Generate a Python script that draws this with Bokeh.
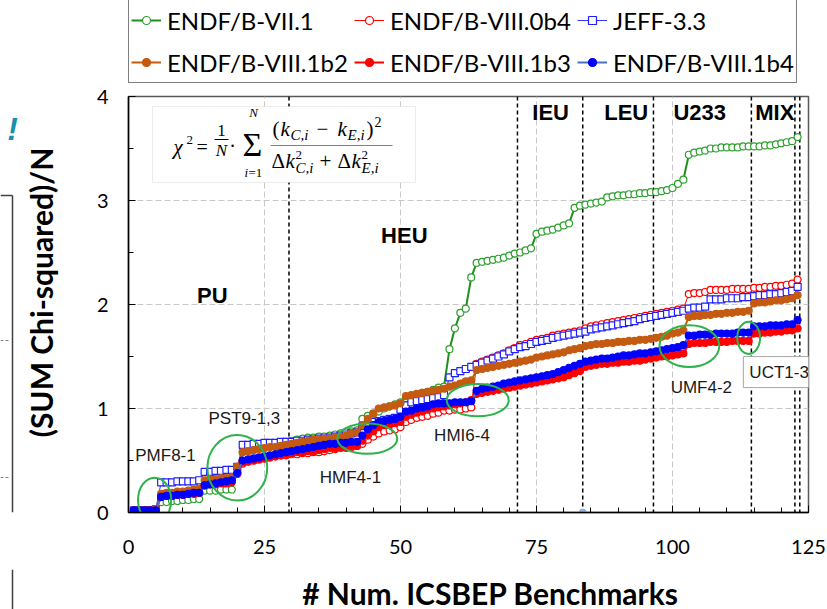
import math
from bokeh.plotting import figure
from bokeh.layouts import column, row
from bokeh.models import (Legend, LegendItem, Span, Label, BoxAnnotation, FixedTicker)
from bokeh.embed import file_html
from bokeh.resources import INLINE

# ---------------- data ----------------
bench = list(range(1, 124))

endf_b_vii1 = [
    0.02, 0.02, 0.02, 0.02, 0.02,
    0.10, 0.10, 0.11, 0.11, 0.12, 0.12, 0.13, 0.13,
    0.21, 0.21, 0.21, 0.22, 0.22, 0.22,
    0.40,
    0.58, 0.60, 0.62, 0.63, 0.64, 0.65, 0.66, 0.67, 0.68, 0.69, 0.70, 0.71, 0.72, 0.72, 0.73, 0.73, 0.74,
    0.75, 0.76, 0.77, 0.78, 0.79,
    0.90, 0.93, 0.95, 0.97, 1.00, 1.02, 1.04, 1.06,
    1.10, 1.12, 1.13, 1.15, 1.16, 1.18, 1.20, 1.21,
    1.57, 1.77, 1.92, 1.96, 2.26, 2.40,
    2.41, 2.42, 2.43, 2.44, 2.45, 2.47, 2.49,
    2.50, 2.52, 2.54,
    2.68, 2.70, 2.71, 2.72, 2.74, 2.76, 2.78,
    2.93, 2.95,
    2.96, 2.97, 2.98, 2.99, 3.03,
    3.04, 3.05, 3.05, 3.06, 3.06, 3.07, 3.07, 3.08,
    3.08, 3.09, 3.10, 3.12, 3.16, 3.20,
    3.44, 3.46, 3.47, 3.48,
    3.50, 3.50, 3.51, 3.51, 3.51, 3.51, 3.52, 3.52,
    3.52, 3.52, 3.53, 3.53, 3.54, 3.55, 3.56, 3.57,
    3.61]

endf_b_viii0b4 = [
    0.02, 0.02, 0.02, 0.02, 0.03,
    0.15, 0.16, 0.16, 0.17, 0.17, 0.18, 0.18, 0.19,
    0.27, 0.28, 0.28, 0.29, 0.29, 0.30,
    0.38,
    0.47, 0.49, 0.50, 0.51, 0.52, 0.53, 0.54, 0.55, 0.55, 0.56, 0.56, 0.57, 0.57, 0.58, 0.58, 0.59, 0.60,
    0.61, 0.62, 0.62, 0.63, 0.64,
    0.66, 0.70, 0.73, 0.76, 0.78, 0.79, 0.80, 0.82,
    0.87, 0.89, 0.91, 0.92, 0.93, 0.95, 0.96, 0.98,
    0.98, 0.99, 0.99, 1.00, 1.01,
    1.43, 1.45, 1.47, 1.49, 1.51, 1.53, 1.56, 1.58,
    1.61, 1.62, 1.64, 1.66, 1.67, 1.68, 1.70, 1.71, 1.72, 1.73, 1.74, 1.75,
    1.77, 1.79, 1.80, 1.81, 1.82, 1.83, 1.84, 1.85, 1.86, 1.87, 1.88, 1.89, 1.90,
    1.91, 1.92, 1.93, 1.94, 1.95, 1.96,
    2.10, 2.11, 2.11, 2.12,
    2.14, 2.14, 2.14, 2.14, 2.15, 2.15, 2.15, 2.15,
    2.16, 2.16, 2.17, 2.17, 2.18, 2.18, 2.19, 2.20,
    2.24]

jeff33 = [
    0.02, 0.02, 0.02, 0.02, 0.03,
    0.29, 0.29, 0.29, 0.30, 0.30, 0.30, 0.30, 0.31,
    0.39, 0.39, 0.40, 0.40, 0.41, 0.41,
    0.44,
    0.65, 0.65, 0.66, 0.66, 0.67, 0.67, 0.67, 0.68, 0.68,
    0.68, 0.69, 0.69, 0.70, 0.70, 0.71, 0.71, 0.72, 0.73,
    0.74, 0.75, 0.76, 0.77,
    0.83, 0.85, 0.87, 0.88, 0.89, 0.90, 0.91,
    0.99, 1.03,
    1.06, 1.07, 1.08, 1.09, 1.10, 1.11, 1.13,
    1.30,
    1.34, 1.36, 1.38, 1.40, 1.42,
    1.44, 1.46, 1.48, 1.50, 1.52, 1.55, 1.57,
    1.59, 1.60, 1.62, 1.64, 1.65, 1.66, 1.68, 1.69, 1.70, 1.71, 1.72, 1.73,
    1.74, 1.76, 1.77, 1.78, 1.79, 1.80, 1.81, 1.82, 1.83, 1.84, 1.86, 1.87, 1.88,
    1.89, 1.90, 1.91, 1.92, 1.93, 1.94,
    1.96, 1.97, 1.97, 1.98,
    2.05, 2.05, 2.05, 2.06, 2.06, 2.06, 2.07, 2.07,
    2.08, 2.09, 2.09, 2.10, 2.10, 2.11, 2.12, 2.13,
    2.17]

endf_b_viii1b2 = [
    0.02, 0.02, 0.02, 0.02, 0.03,
    0.18, 0.19, 0.19, 0.20, 0.20, 0.21, 0.22, 0.23,
    0.31, 0.32, 0.32, 0.33, 0.33, 0.34,
    0.44,
    0.58, 0.59, 0.60, 0.61, 0.62, 0.63, 0.63, 0.64, 0.65, 0.66, 0.67, 0.68, 0.69, 0.70, 0.70, 0.71, 0.71,
    0.72, 0.73, 0.74, 0.76, 0.77,
    0.84, 0.90, 0.95, 1.00, 1.01, 1.02, 1.03, 1.05,
    1.12, 1.13, 1.14, 1.15, 1.16, 1.17, 1.18, 1.19,
    1.21, 1.22, 1.24, 1.26, 1.27,
    1.37, 1.38, 1.39, 1.40, 1.41, 1.42, 1.43, 1.44,
    1.45, 1.46, 1.47, 1.49, 1.50, 1.51, 1.52, 1.53, 1.54, 1.56, 1.57, 1.58,
    1.60, 1.61, 1.62, 1.62, 1.63, 1.63, 1.64, 1.64, 1.65, 1.65, 1.66, 1.66, 1.67,
    1.68, 1.69, 1.70, 1.72, 1.73, 1.75,
    1.88, 1.89, 1.89, 1.90, 1.90, 1.91, 1.91, 1.92, 1.92, 1.93, 1.93, 1.94,
    2.01, 2.02, 2.02, 2.03, 2.04, 2.04, 2.05, 2.06,
    2.09]

endf_b_viii1b3 = [
    0.02, 0.02, 0.02, 0.02, 0.02,
    0.15, 0.16, 0.16, 0.17, 0.17, 0.18, 0.18, 0.19,
    0.26, 0.27, 0.27, 0.28, 0.28, 0.29,
    0.37,
    0.48, 0.49, 0.50, 0.51, 0.52, 0.53, 0.54, 0.55, 0.56, 0.57, 0.58, 0.58, 0.59, 0.59, 0.60, 0.61, 0.62,
    0.62, 0.63, 0.63, 0.64, 0.64,
    0.69, 0.74, 0.78, 0.82, 0.84, 0.85, 0.86, 0.87,
    0.92, 0.94, 0.96, 0.97, 0.99, 1.00, 1.01, 1.02,
    1.03, 1.04, 1.05, 1.06, 1.08,
    1.14, 1.15, 1.16, 1.17, 1.18, 1.19, 1.20, 1.21,
    1.22, 1.23, 1.24, 1.25, 1.26, 1.27, 1.28, 1.29, 1.30, 1.32, 1.34, 1.36,
    1.40, 1.41, 1.42, 1.43, 1.43, 1.44, 1.44, 1.45, 1.45, 1.46, 1.46, 1.47, 1.48,
    1.49, 1.50, 1.50, 1.51, 1.52, 1.53,
    1.62, 1.63, 1.63, 1.63, 1.64, 1.64, 1.64, 1.64, 1.65, 1.65, 1.65, 1.65,
    1.72, 1.72, 1.73, 1.73, 1.74, 1.74, 1.75, 1.75,
    1.77]

endf_b_viii1b4 = [
    0.02, 0.02, 0.02, 0.02, 0.02,
    0.15, 0.16, 0.16, 0.17, 0.17, 0.18, 0.19, 0.19,
    0.26, 0.27, 0.28, 0.29, 0.30, 0.31,
    0.38,
    0.50, 0.51, 0.52, 0.53, 0.54, 0.55, 0.56, 0.57, 0.58, 0.59, 0.60, 0.61, 0.62, 0.63, 0.64, 0.65, 0.66,
    0.66, 0.67, 0.67, 0.68, 0.68,
    0.74, 0.80, 0.84, 0.87, 0.88, 0.89, 0.90, 0.92,
    0.97, 0.98, 1.00, 1.01, 1.02, 1.04, 1.05, 1.05,
    1.05, 1.06, 1.06, 1.06, 1.07,
    1.17, 1.19, 1.20, 1.21, 1.22, 1.24, 1.25, 1.26,
    1.27, 1.28, 1.29, 1.30, 1.31, 1.32, 1.33, 1.35, 1.37, 1.39, 1.41, 1.43,
    1.45, 1.46, 1.47, 1.48, 1.48, 1.49, 1.50, 1.51, 1.51, 1.52, 1.53, 1.53, 1.54,
    1.55, 1.56, 1.57, 1.58, 1.59, 1.61,
    1.70, 1.70, 1.71, 1.71, 1.71, 1.72, 1.72, 1.72, 1.72, 1.73, 1.73, 1.73,
    1.79, 1.79, 1.79, 1.80, 1.80, 1.80, 1.81, 1.81,
    1.85]

series_names = ["ENDF/B-VII.1", "ENDF/B-VIII.0b4", "JEFF-3.3",
                "ENDF/B-VIII.1b2", "ENDF/B-VIII.1b3", "ENDF/B-VIII.1b4"]
series_values = [endf_b_vii1, endf_b_viii0b4, jeff33,
                 endf_b_viii1b2, endf_b_viii1b3, endf_b_viii1b4]

section_names = ["PU", "HEU", "IEU", "LEU", "U233", "MIX"]
section_bounds = [29.5, 71.5, 83.5, 96.5, 114.5, 122.5, 123.4]
highlight_names = ["PMF8-1", "PST9-1,3", "HMF4-1", "HMI6-4", "UMF4-2", "UCT1-3"]
x_ticks = [0, 25, 50, 75, 100, 125]
y_ticks = [0, 1, 2, 3, 4]
artifact_x = [83.5]
artifact_y = [0.0]
y_title = "(SUM Chi-squared)/N"
x_title = "# Num. ICSBEP Benchmarks"

for v in series_values:
    assert len(v) == len(bench), len(v)

# ---------------- geometry ----------------
W, H = 827, 609
LEG_H = 84          # legend strip (top)
BOT_H = 40          # x-title strip (bottom)
LEFT_W = 88         # y-title strip (left)
FL, FT, FW, FH = 128, 96, 680, 416   # frame position in the full picture
XMAX, YMAX = 125, 4
MID_H = H - LEG_H - BOT_H
MB_TOP = FT - LEG_H
MB_BOT = MID_H - MB_TOP - FH


def X(px):
    return (px - FL) * XMAX / FW


def Y(py):
    return (FT + FH - py) * YMAX / FH


styles = [
    dict(line="#1f8f1f", lw=2, marker="circle", mline="#2ca02c", fill="white", size=7),
    dict(line="#ff0000", lw=1, marker="circle", mline="#ff0000", fill="white", size=7),
    dict(line="#3333ff", lw=1, marker="square", mline="#1f1fff", fill="white", size=7),
    dict(line="#c55a11", lw=2, marker="circle", mline="#c55a11", fill="#c55a11", size=7),
    dict(line="#ff0000", lw=2, marker="circle", mline="#ff0000", fill="#ff0000", size=7),
    dict(line="#4472c4", lw=2, marker="circle", mline="#0000ff", fill="#0000ff", size=7),
]

# ---------------- main plot ----------------
p = figure(frame_width=FW, frame_height=FH, x_range=(0, XMAX), y_range=(0, YMAX),
           min_border_left=FL - LEFT_W, min_border_right=W - FL - FW,
           min_border_top=MB_TOP, min_border_bottom=MB_BOT,
           output_backend="svg", toolbar_location=None,
           background_fill_color="white", border_fill_color="white")

p.outline_line_color = "#595959"
p.outline_line_width = 1.5

p.xaxis.ticker = FixedTicker(ticks=x_ticks, minor_ticks=list(range(0, 126, 5)))
p.yaxis.ticker = FixedTicker(ticks=y_ticks, minor_ticks=[0.5, 1.5, 2.5, 3.5])
for ax in (p.xaxis[0], p.yaxis[0]):
    ax.axis_line_color = "black"
    ax.axis_line_width = 1.5
    ax.major_tick_in = 7
    ax.major_tick_out = 0
    ax.minor_tick_in = 5
    ax.minor_tick_out = 0
    ax.major_tick_line_color = "black"
    ax.minor_tick_line_color = "black"
    ax.major_label_text_font = "Lato"
    ax.major_label_text_font_size = "20px"
    ax.major_label_text_color = "black"
p.xaxis.major_label_standoff = 27
p.yaxis.major_label_standoff = 20

p.xgrid.ticker = FixedTicker(ticks=[25, 50, 75, 100])
p.ygrid.ticker = FixedTicker(ticks=[1, 2, 3])
p.grid.grid_line_color = "#c8c8c8"
p.grid.grid_line_dash = "6 3"
p.grid.grid_line_width = 1

for b in section_bounds:
    p.add_layout(Span(location=b, dimension="height", line_color="black",
                      line_dash="4 3", line_width=1.5, level="underlay"))

for name, vals, st in zip(series_names, series_values, styles):
    p.line(bench, vals, line_color=st["line"], line_width=st["lw"])
    p.scatter(bench, vals, marker=st["marker"], size=st["size"],
              line_color=st["mline"], fill_color=st["fill"], line_width=1.2)

p.scatter(artifact_x, artifact_y, size=7, fill_color="#8db4e2", line_color="#8db4e2")

# highlight ellipses
ell_x = [4.8, 20.0, 43.9, 64.2, 103.1, 114.0]
ell_y = [0.12, 0.43, 0.71, 1.08, 1.60, 1.68]
ell_w = [6.1, 11.0, 11.0, 11.4, 11.0, 4.2]
ell_h = [0.43, 0.63, 0.29, 0.31, 0.40, 0.31]
p.ellipse(x=ell_x, y=ell_y, width=ell_w, height=ell_h, fill_alpha=0,
          line_color="#2db34a", line_width=2)

sec_x = [15.4, 50.7, 77.6, 91.5, 105.0, 118.8]
sec_y = [2.09, 2.66, 3.85, 3.85, 3.85, 3.85]
for s, sx, sy in zip(section_names, sec_x, sec_y):
    p.add_layout(Label(x=sx, y=sy, text=s, text_font="Liberation Sans", text_font_style="bold",
                       text_font_size="22px", text_align="center", text_baseline="middle",
                       text_color="black"))

hl_x = [6.8, 21.3, 40.8, 61.3, 105.3, 119.6]
hl_y = [0.55, 0.90, 0.34, 0.74, 1.20, 1.35]
for s, hx, hy in zip(highlight_names, hl_x, hl_y):
    kw = {}
    if s == "UCT1-3":
        kw = dict(background_fill_color="white", background_fill_alpha=1,
                  border_line_color="#a6a6a6", border_line_width=1, padding=6)
    p.add_layout(Label(x=hx, y=hy, text=s, text_font="Liberation Sans",
                       text_font_size="17px", text_align="center", text_baseline="middle",
                       text_color="#1a1a1a", **kw))

# formula box
p.add_layout(BoxAnnotation(left=X(152), right=X(415), top=Y(106), bottom=Y(182),
                           fill_color="white", fill_alpha=1, line_color="#bfbfbf",
                           line_width=1, level="annotation"))


def ftxt(px, py, s, size, style="italic", align="left", font="Liberation Serif"):
    p.add_layout(Label(x=X(px), y=Y(py), text=s, text_font=font, text_font_style=style,
                       text_font_size=f"{size}px", text_align=align,
                       text_baseline="middle", text_color="black"))


ftxt(173, 146, "χ", 21)
ftxt(186, 139, "2", 13, "normal")
ftxt(196, 146, "=", 20, "normal")
ftxt(221, 130, "1", 17, "normal", "center")
ftxt(221, 150, "N", 17, "italic", "center")
ftxt(232, 145, "·", 20, "normal", "center")
ftxt(252, 144, "Σ", 34, "normal", "center")
ftxt(253, 112, "N", 13, "italic", "center")
ftxt(244, 172, "i", 13, "italic")
ftxt(248, 172, "=1", 13, "normal")
# numerator
ftxt(272, 128, "(", 21, "normal")
ftxt(280, 128, "k", 21)
ftxt(290, 134, "C,i", 15)
ftxt(316, 128, "−", 21, "normal")
ftxt(337, 128, "k", 21)
ftxt(347, 134, "E,i", 15)
ftxt(366, 128, ")", 21, "normal")
ftxt(374, 121, "2", 14, "normal")
# denominator
ftxt(271, 160, "Δ", 21, "normal")
ftxt(285, 160, "k", 21)
ftxt(295, 154, "2", 13, "normal")
ftxt(295, 167, "C,i", 15)
ftxt(319, 160, "+", 21, "normal")
ftxt(337, 160, "Δ", 21, "normal")
ftxt(351, 160, "k", 21)
ftxt(361, 154, "2", 13, "normal")
ftxt(361, 167, "E,i", 15)
p.segment(x0=[X(214), X(270)], y0=[Y(139), Y(145)], x1=[X(228), X(392)], y1=[Y(139), Y(145)],
          line_color=["black", "#8c7b7b"], line_width=1, level="overlay")


def strip(width, height):
    f = figure(width=width, height=height, x_range=(0, width), y_range=(0, height),
               min_border=0, x_axis_location=None, y_axis_location=None,
               output_backend="svg", toolbar_location=None, outline_line_color=None,
               background_fill_color="white", border_fill_color="white")
    f.grid.visible = False
    return f


# ---------------- legend strip (top) ----------------
pl = figure(width=W, height=LEG_H, x_range=(-20, -10), y_range=(-20, -10), min_border=0,
            x_axis_location=None, y_axis_location=None, output_backend="svg",
            toolbar_location=None, outline_line_color=None,
            background_fill_color="white", border_fill_color="white")
pl.grid.visible = False
items = []
for name, vals, st in zip(series_names, series_values, styles):
    rl = pl.line(bench, vals, line_color=st["line"], line_width=st["lw"])
    rm = pl.scatter(bench, vals, marker=st["marker"], size=st["size"],
                    line_color=st["mline"], fill_color=st["fill"], line_width=1.2)
    items.append(LegendItem(label=name, renderers=[rl, rm]))
legend = Legend(items=items, orientation="horizontal", ncols=3, location=(FL, 1),
                label_text_font="Lato", label_text_font_size="24px", label_text_color="black",
                glyph_width=30, glyph_height=20, label_standoff=6, label_width=181,
                label_height=36, spacing=6, padding=2, margin=0,
                border_line_color="black", border_line_width=1,
                background_fill_color="white", background_fill_alpha=1)
pl.add_layout(legend, "center")

# ---------------- left strip: y title and slide fragments ----------------
# its frame shares the main frame's vertical extent; y is measured in picture pixels (top-down)
pf = figure(width=LEFT_W, height=MID_H, x_range=(0, LEFT_W), y_range=(FT + FH, FT),
            frame_width=LEFT_W, frame_height=FH, min_border_left=0, min_border_right=0,
            min_border_top=MB_TOP, min_border_bottom=MB_BOT,
            x_axis_location=None, y_axis_location=None, output_backend="svg",
            toolbar_location=None, outline_line_color=None,
            background_fill_color="white", border_fill_color="white")
pf.grid.visible = False
pf.add_layout(Label(x=40, y=292, text=y_title, angle=math.pi / 2,
                    text_font="Lato", text_font_style="bold", text_font_size="30px",
                    text_align="center", text_baseline="middle", text_color="black"))
pf.add_layout(Label(x=12, y=128, text="!", text_font="Liberation Sans",
                    text_font_style="bold italic", text_font_size="32px", text_align="center",
                    text_baseline="middle", text_color="#1a8fb0"))
pf.segment(x0=[12, 0], y0=[FT + FH, 195], x1=[12, 12], y1=[195, 195],
           line_color="#404040", line_width=1.5)
pf.segment(x0=[0, 0], y0=[340, 477], x1=[10, 10], y1=[340, 477],
           line_color="#808080", line_width=1, line_dash="3 2")

# ---------------- bottom strip: x title ----------------
pb = strip(W, BOT_H)
pb.add_layout(Label(x=490, y=H - 592, text=x_title, text_font="Lato", text_font_style="bold",
                    text_font_size="30px", text_align="center", text_baseline="middle",
                    text_color="black"))
pb.segment(x0=[12], y0=[0], x1=[12], y1=[BOT_H], line_color="#404040", line_width=1.5)

layout = column(pl, row(pf, p, spacing=0), pb, spacing=0)
open("out.html", "w").write(file_html(layout, INLINE))
